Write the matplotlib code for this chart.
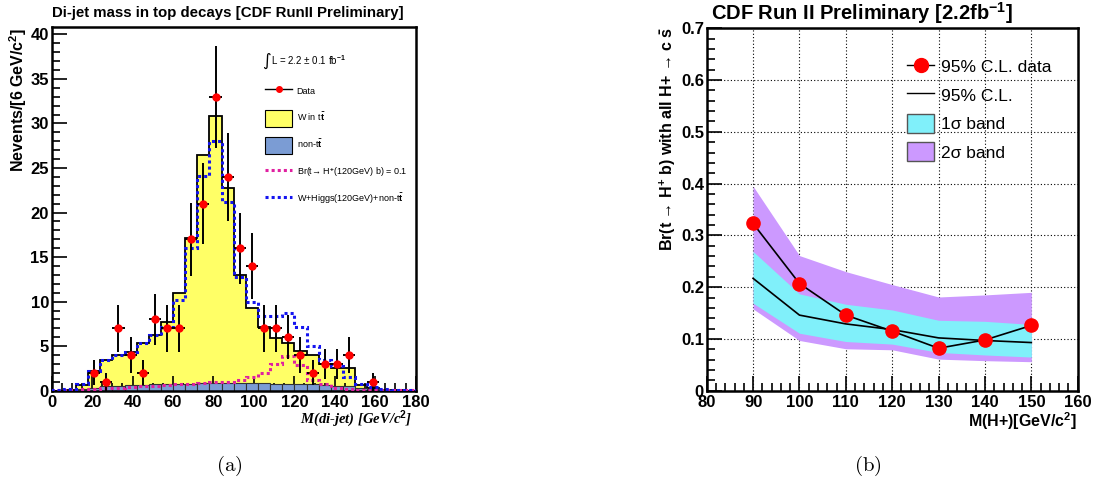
import numpy as np
import matplotlib
matplotlib.use("Agg")
import matplotlib.pyplot as plt
from matplotlib.lines import Line2D
from matplotlib.patches import Patch
from matplotlib.ticker import MultipleLocator, FuncFormatter

plt.rcParams['font.family'] = ['Liberation Sans', 'DejaVu Sans']
plt.rcParams['font.weight'] = 'bold'
plt.rcParams['mathtext.fontset'] = 'custom'
plt.rcParams['mathtext.rm'] = 'Liberation Sans'
plt.rcParams['mathtext.it'] = 'Liberation Sans:italic'
plt.rcParams['mathtext.bf'] = 'Liberation Sans:bold'

# ---------------- left panel data ----------------
bin_edges = np.arange(0, 181, 6)
total_mc = [0.0, 0.1, 0.6, 2.2, 3.5, 4.0, 4.3, 5.3, 6.2, 7.7, 11.0, 17.2, 26.5, 30.8, 22.8,
            13.0, 9.3, 7.1, 5.9, 5.3, 4.5, 4.0, 3.0, 2.6, 2.5, 0.6, 0.3, 0.1, 0.05, 0.0]
non_tt = [0.0, 0.05, 0.2, 0.35, 0.5, 0.55, 0.6, 0.65, 0.7, 0.7, 0.75, 0.8, 0.85, 0.85, 0.85,
          0.9, 0.9, 0.85, 0.8, 0.8, 0.75, 0.7, 0.6, 0.55, 0.5, 0.35, 0.2, 0.1, 0.05, 0.0]
w_higgs = [0.1, 0.2, 0.7, 2.2, 3.5, 4.0, 4.3, 5.3, 6.2, 7.1, 10.2, 16.0, 24.1, 28.0, 21.2,
           12.8, 10.0, 8.4, 8.4, 8.7, 7.2, 5.0, 3.5, 2.8, 1.5, 0.8, 0.4, 0.2, 0.1, 0.05]
br_signal = [0.05, 0.1, 0.15, 0.2, 0.3, 0.35, 0.4, 0.5, 0.55, 0.6, 0.7, 0.75, 0.9, 0.95, 1.0,
             1.2, 1.5, 2.0, 3.0, 3.9, 2.9, 1.2, 0.8, 0.3, 0.2, 0.1, 0.05, 0.05, 0.05, 0.05]
data_x = [21, 27, 33, 39, 45, 51, 57, 63, 69, 75, 81, 87, 93, 99, 105, 111, 117, 123, 129,
          135, 141, 147, 159]
data_y = [2, 1, 7, 4, 2, 8, 7, 7, 17, 21, 33, 24, 16, 14, 7, 7, 6, 4, 2, 3, 3, 4, 1]

# ---------------- right panel data ----------------
mass = [90, 100, 110, 120, 130, 140, 150]
obs_limit = [0.323, 0.207, 0.146, 0.115, 0.082, 0.098, 0.126]
exp_limit = [0.217, 0.146, 0.129, 0.118, 0.102, 0.097, 0.093]
one_sig_up = [0.269, 0.187, 0.167, 0.156, 0.136, 0.134, 0.128]
one_sig_dn = [0.169, 0.111, 0.095, 0.090, 0.074, 0.069, 0.065]
two_sig_up = [0.395, 0.261, 0.230, 0.205, 0.181, 0.185, 0.190]
two_sig_dn = [0.158, 0.097, 0.081, 0.079, 0.061, 0.058, 0.056]

W, H = 1096, 487
fig = plt.figure(figsize=(W / 100, H / 100), dpi=100)

YEL = '#FFFF66'
BLU = '#7B9CD4'
MAG = '#E020A0'
DBL = '#1414F0'
CYAN = '#80F0FA'
PURP = '#CC99FF'

def style_axes(ax):
    for s in ax.spines.values():
        s.set_linewidth(1.8)
    ax.tick_params(which='both', direction='in', top=False, right=False, width=1.2)
    ax.tick_params(which='major', length=11, labelsize=12)
    ax.tick_params(which='minor', length=5.5)
    ax.tick_params(axis='x', pad=3)
    ax.tick_params(axis='y', pad=2)

# ---------------- left ----------------
ax1 = fig.add_axes([51.7 / W, 96.3 / H, 364 / W, 363.4 / H])
edges = np.array(bin_edges)
ax1.stairs(total_mc, edges, fill=True, facecolor=YEL, edgecolor='none', zorder=1)
ax1.stairs(total_mc, edges, color='black', lw=1.3, zorder=2)
ax1.bar(edges[:-1], non_tt, width=6, align='edge', color=BLU, edgecolor='#333333',
        linewidth=0.8, zorder=2)
ax1.stairs(br_signal, edges, color=MAG, lw=2.2, linestyle=(0, (1, 1)), zorder=3)
ax1.stairs(w_higgs, edges, color=DBL, lw=2.2, linestyle=(0, (1, 1)), zorder=3)
ax1.errorbar(data_x, data_y, yerr=np.sqrt(data_y), xerr=3, fmt='o', color='black',
             ecolor='black', elinewidth=1.4, capsize=0, mfc='red', mec='red', ms=5, zorder=5)
ax1.set_xlim(0, 180)
ax1.set_ylim(0, 40.8)
ax1.xaxis.set_major_locator(MultipleLocator(20))
ax1.xaxis.set_minor_locator(MultipleLocator(5))
ax1.yaxis.set_major_locator(MultipleLocator(5))
ax1.yaxis.set_minor_locator(MultipleLocator(1))
style_axes(ax1)

ax1.text((262 - 51.7) / 364, (390.7 - 61) / 363.4, '∫', family='DejaVu Sans',
         transform=ax1.transAxes, fontsize=12, fontweight='normal', va='center', ha='left')
ax1.text((271 - 51.7) / 364, (390.7 - 60) / 363.4, 'L = 2.2 ± 0.1 fb' + r'$^{-1}$',
         transform=ax1.transAxes, fontsize=7, fontweight='normal', va='center', ha='left')
h1 = [Line2D([], [], color='black', lw=1, marker='o', mfc='red', mec='red', ms=4),
      Patch(facecolor=YEL, edgecolor='black', lw=0.8),
      Patch(facecolor=BLU, edgecolor='black', lw=0.8),
      Line2D([], [], color=MAG, lw=2.2, linestyle=(0, (1, 1))),
      Line2D([], [], color=DBL, lw=2.2, linestyle=(0, (1, 1)))]
l1 = ['Data', r'W in t$\bar{\mathrm{t}}$', r'non-t$\bar{\mathrm{t}}$',
      'Br(t→ H' + r'$^{+}$' + '(120GeV) b) = 0.1', r'W+Higgs(120GeV)+non-t$\bar{\mathrm{t}}$']
ax1.legend(h1, l1, loc='upper left', bbox_to_anchor=((265 - 51.7) / 364, (390.7 - 83) / 363.4),
           frameon=False, prop={'size': 6.5, 'weight': 'normal'}, handlelength=3.0,
           handleheight=2.6, labelspacing=1.05, handletextpad=0.5, borderpad=0, borderaxespad=0)

fig.text(228 / W, 1 - 13 / H, 'Di-jet mass in top decays [CDF RunII Preliminary]',
         fontsize=10.8, fontweight='bold', ha='center', va='center')
fig.text(18 / W, 1 - 28 / H, r'Nevents/[6 GeV/c$^{\mathbf{2}}$]', rotation=90, fontsize=11.5,
         fontweight='bold', ha='center', va='top')
fig.text(412 / W, 1 - 419 / H, r'M(di-jet) [GeV/c$^{2}$]', fontsize=10.5, fontweight='bold',
         fontstyle='italic', family='Liberation Serif', ha='right', va='center')

# ---------------- right ----------------
ax2 = fig.add_axes([706.7 / W, 96.3 / H, 371 / W, 362.4 / H])
ax2.set_axisbelow(True)
ax2.grid(True, which='major', color='black', linestyle=(0, (1, 2)), lw=0.8)
ax2.fill_between(mass, two_sig_dn, two_sig_up, color=PURP, lw=0, zorder=1)
ax2.fill_between(mass, one_sig_dn, one_sig_up, color=CYAN, lw=0, zorder=2)
ax2.plot(mass, exp_limit, color='black', lw=1.2, zorder=3)
ax2.plot(mass, obs_limit, color='black', lw=1.2, marker='o', mfc='red', mec='red', ms=9.5,
         zorder=4)
ax2.set_xlim(80, 160)
ax2.set_ylim(0, 0.7)
ax2.xaxis.set_major_locator(MultipleLocator(10))
ax2.xaxis.set_minor_locator(MultipleLocator(2))
ax2.yaxis.set_major_locator(MultipleLocator(0.1))
ax2.yaxis.set_minor_locator(MultipleLocator(0.02))
ax2.yaxis.set_major_formatter(FuncFormatter(lambda v, p: '0' if abs(v) < 1e-9 else f'{v:.1f}'))
style_axes(ax2)

h2 = [Line2D([], [], color='black', lw=1, marker='o', mfc='red', mec='red', ms=10),
      Line2D([], [], color='black', lw=1),
      Patch(facecolor=CYAN, edgecolor='#555555', lw=1),
      Patch(facecolor=PURP, edgecolor='#555555', lw=1)]
l2 = ['95% C.L. data', '95% C.L.', '1σ band', '2σ band']
ax2.legend(h2, l2, loc='upper left', bbox_to_anchor=((906.7 - 706.7) / 371, (390.7 - 57) / 362.4),
           frameon=False, prop={'size': 12.5, 'weight': 'normal'}, handlelength=1.6,
           handleheight=1.3, labelspacing=0.55, handletextpad=0.35, borderpad=0,
           borderaxespad=0)

fig.text(862 / W, 1 - 13 / H, r'CDF Run II Preliminary [2.2fb$^{\mathbf{-1}}$]', fontsize=14.5,
         fontweight='bold', ha='center', va='center')
fig.text(668 / W, 1 - 27 / H,
         'Br(t → H' + r'$^{\mathbf{+}}$' + ' b) with all H+ → c ' + r'$\bar{\mathbf{s}}$',
         rotation=90, fontsize=11.5, fontweight='bold', ha='center', va='top')
fig.text(1077 / W, 1 - 421 / H, r'M(H+)[GeV/c$^{\mathbf{2}}$]', fontsize=11.5,
         fontweight='bold', ha='right', va='center')

# captions
fig.text(229 / W, 1 - 466 / H, r'$\mathrm{(a)}$', fontsize=15, math_fontfamily='cm',
         fontweight='normal', ha='center', va='center')
fig.text(868 / W, 1 - 466 / H, r'$\mathrm{(b)}$', fontsize=15, math_fontfamily='cm',
         fontweight='normal', ha='center', va='center')

fig.savefig('out.png', dpi=100)
